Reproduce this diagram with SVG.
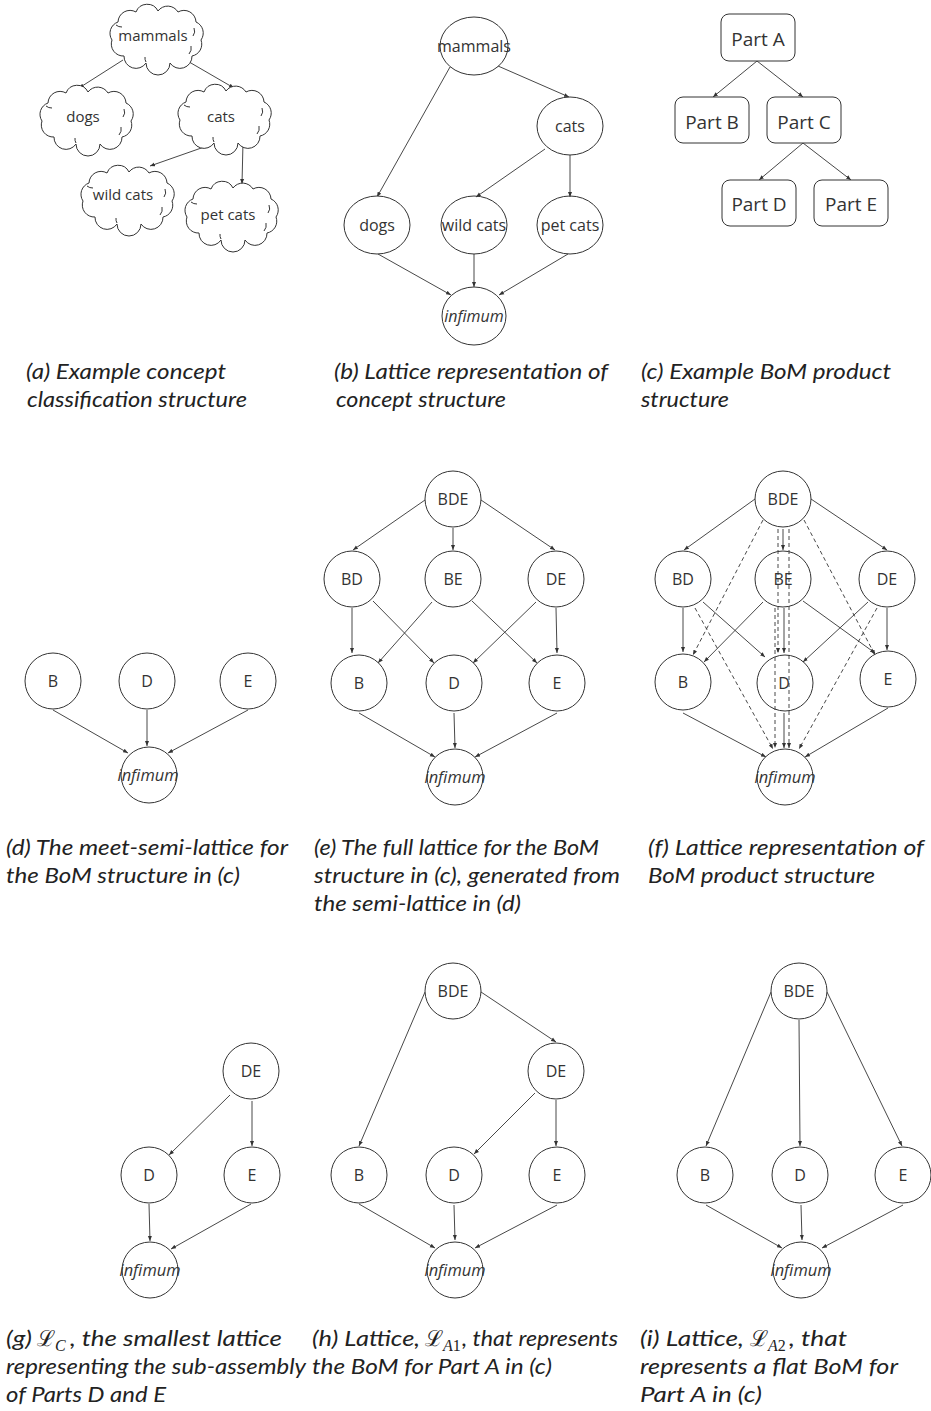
<svg xmlns="http://www.w3.org/2000/svg" xmlns:xlink="http://www.w3.org/1999/xlink" width="931" height="1411" viewBox="0 0 931 1411">
<style>
.n{fill:#fff;stroke:#333;stroke-width:1}
.t{font-family:"Open Sans","DejaVu Sans",sans-serif;font-size:16px;fill:#333;text-anchor:middle}
.ti{font-family:"Open Sans","DejaVu Sans",sans-serif;font-size:16px;font-style:italic;fill:#333;text-anchor:middle}
.c{font-family:Lato,"Open Sans",sans-serif;font-size:22px;font-style:italic;fill:#222}
.m{font-family:"DejaVu Serif",serif;font-size:22px;font-style:normal;fill:#222}
.s{font-family:"Liberation Serif",serif;font-size:16px;fill:#222}
.e{fill:none;stroke:#333;stroke-width:0.9;marker-end:url(#ah)}
.d{fill:none;stroke:#333;stroke-width:0.9;stroke-dasharray:4 3;marker-end:url(#ah)}
</style>
<defs>
<marker id="ah" viewBox="0 0 6 6" refX="6" refY="3" markerWidth="5" markerHeight="5" markerUnits="userSpaceOnUse" orient="auto"><path d="M0,0.6 L6,3 L0,5.4 Z" fill="#333"/></marker>
<g id="cloud">
<path class="n" d="M-44,4 A12,12 0 0 1 -38,-14 A12,12 0 0 1 -20,-24 A12,12 0 0 1 2,-25 A12,12 0 0 1 22,-24 A12,12 0 0 1 40,-14 A12,12 0 0 1 45,4 A12,12 0 0 1 36,20 A12,12 0 0 1 14,27 A12,12 0 0 1 -10,27 A12,12 0 0 1 -32,20 A12,12 0 0 1 -44,4 Z"/>
<path fill="none" stroke="#333" stroke-width="1" d="M38,-8 a8,8 0 0 1 -1,8 M33,18 a9,9 0 0 0 2,-8 M-40,-11 a9,9 0 0 0 6,2 M-10,26 a8,8 0 0 1 -1,-5"/>
</g>
</defs>
<rect width="931" height="1411" fill="#fff"/>

<g id="connectors">
<!-- (a) -->
<line class="e" x1="123" y1="60" x2="79" y2="88"/>
<line class="e" x1="184" y1="59" x2="234" y2="88"/>
<line class="e" x1="207" y1="146" x2="150" y2="166"/>
<line class="e" x1="243" y1="142" x2="242" y2="184"/>
<!-- (b) -->
<line class="e" x1="450" y1="67" x2="377" y2="197"/>
<line class="e" x1="498" y1="66" x2="569" y2="97"/>
<line class="e" x1="545" y1="149" x2="476" y2="197"/>
<line class="e" x1="570" y1="155" x2="570" y2="197"/>
<line class="e" x1="378" y1="254" x2="451" y2="295"/>
<line class="e" x1="474" y1="254" x2="474" y2="287"/>
<line class="e" x1="568" y1="254" x2="499" y2="295"/>
<!-- (c) -->
<line class="e" x1="757" y1="61" x2="713" y2="97"/>
<line class="e" x1="757" y1="61" x2="803" y2="97"/>
<line class="e" x1="803" y1="143" x2="759" y2="180"/>
<line class="e" x1="803" y1="143" x2="851" y2="180"/>
<!-- (d) -->
<line class="e" x1="53" y1="710" x2="128" y2="753"/>
<line class="e" x1="147" y1="710" x2="147" y2="746"/>
<line class="e" x1="248" y1="710" x2="168" y2="753"/>
<!-- (e) -->
<line class="e" x1="425" y1="500" x2="353" y2="550"/>
<line class="e" x1="453" y1="528" x2="453" y2="550"/>
<line class="e" x1="481" y1="500" x2="555" y2="550"/>
<line class="e" x1="352" y1="608" x2="352" y2="653"/>
<line class="e" x1="373" y1="601" x2="434" y2="663"/>
<line class="e" x1="432" y1="602" x2="378" y2="663"/>
<line class="e" x1="472" y1="601" x2="537" y2="663"/>
<line class="e" x1="536" y1="602" x2="473" y2="663"/>
<line class="e" x1="556" y1="608" x2="557" y2="653"/>
<line class="e" x1="359" y1="713" x2="435" y2="757"/>
<line class="e" x1="454" y1="713" x2="455" y2="748"/>
<line class="e" x1="557" y1="713" x2="475" y2="757"/>
<!-- (f) solid -->
<line class="e" x1="755" y1="499" x2="684" y2="550"/>
<line class="e" x1="783" y1="529" x2="783" y2="550"/>
<line class="e" x1="811" y1="499" x2="887" y2="550"/>
<line class="e" x1="683" y1="608" x2="683" y2="652"/>
<line class="e" x1="703" y1="602" x2="765" y2="657"/>
<line class="e" x1="763" y1="602" x2="704" y2="662"/>
<line class="e" x1="784" y1="608" x2="784" y2="653"/>
<line class="e" x1="803" y1="601" x2="875" y2="653"/>
<line class="e" x1="868" y1="602" x2="803" y2="662"/>
<line class="e" x1="887" y1="608" x2="887" y2="650"/>
<line class="e" x1="683" y1="713" x2="766" y2="757"/>
<line class="e" x1="784" y1="713" x2="784" y2="748"/>
<line class="e" x1="888" y1="708" x2="805" y2="757"/>
<!-- (f) dashed -->
<line class="d" x1="763" y1="520" x2="693" y2="655"/>
<line class="d" x1="804" y1="520" x2="875" y2="655"/>
<line class="d" x1="778" y1="529" x2="778" y2="653"/>
<line class="d" x1="789" y1="529" x2="789" y2="748"/>
<line class="d" x1="775" y1="608" x2="775" y2="748"/>
<line class="d" x1="695" y1="608" x2="773" y2="749"/>
<line class="d" x1="877" y1="608" x2="799" y2="749"/>
<!-- (g) -->
<line class="e" x1="230" y1="1095" x2="169" y2="1155"/>
<line class="e" x1="252" y1="1101" x2="252" y2="1146"/>
<line class="e" x1="149" y1="1204" x2="150" y2="1241"/>
<line class="e" x1="251" y1="1204" x2="171" y2="1249"/>
<!-- (h) -->
<line class="e" x1="425" y1="992" x2="359" y2="1146"/>
<line class="e" x1="481" y1="992" x2="556" y2="1042"/>
<line class="e" x1="535" y1="1093" x2="474" y2="1154"/>
<line class="e" x1="556" y1="1100" x2="556" y2="1146"/>
<line class="e" x1="359" y1="1204" x2="435" y2="1248"/>
<line class="e" x1="454" y1="1205" x2="455" y2="1240"/>
<line class="e" x1="557" y1="1205" x2="475" y2="1248"/>
<!-- (i) -->
<line class="e" x1="771" y1="992" x2="706" y2="1146"/>
<line class="e" x1="799" y1="1020" x2="800" y2="1146"/>
<line class="e" x1="827" y1="992" x2="902" y2="1146"/>
<line class="e" x1="706" y1="1205" x2="782" y2="1248"/>
<line class="e" x1="801" y1="1205" x2="802" y2="1240"/>
<line class="e" x1="903" y1="1205" x2="822" y2="1248"/>
</g>

<!-- (a) clouds -->
<g id="a-mammals"><use xlink:href="#cloud" href="#cloud" transform="translate(156,36)"/><text class="t" x="153" y="41" style="font-size:15px">mammals</text></g>
<g id="a-dogs"><use href="#cloud" xlink:href="#cloud" transform="translate(86,117)"/><text class="t" x="83" y="122" style="font-size:15px">dogs</text></g>
<g id="a-cats"><use href="#cloud" xlink:href="#cloud" transform="translate(224,116)"/><text class="t" x="221" y="122" style="font-size:15px">cats</text></g>
<g id="a-wildcats"><use href="#cloud" xlink:href="#cloud" transform="translate(127,197)"/><text class="t" x="123" y="200" style="font-size:15px">wild cats</text></g>
<g id="a-petcats"><use href="#cloud" xlink:href="#cloud" transform="translate(231,213)"/><text class="t" x="228" y="220" style="font-size:15px">pet cats</text></g>

<!-- (b) -->
<g id="b-mammals"><ellipse class="n" cx="474" cy="46" rx="34" ry="29" style="fill:none"/><text class="t" x="474" y="52">mammals</text></g>
<g id="b-cats"><ellipse class="n" cx="570" cy="126" rx="33" ry="29"/><text class="t" x="570" y="132">cats</text></g>
<g id="b-dogs"><ellipse class="n" cx="377" cy="225" rx="33" ry="29"/><text class="t" x="377" y="231">dogs</text></g>
<g id="b-wildcats"><ellipse class="n" cx="474" cy="225" rx="33" ry="29" style="fill:none"/><text class="t" x="474" y="231">wild cats</text></g>
<g id="b-petcats"><ellipse class="n" cx="570" cy="225" rx="33" ry="29" style="fill:none"/><text class="t" x="570" y="231">pet cats</text></g>
<g id="b-infimum"><ellipse class="n" cx="474" cy="316" rx="32" ry="29" style="fill:none"/><text class="ti" x="474" y="322">infimum</text></g>

<!-- (c) -->
<g id="c-partA"><rect class="n" x="721" y="14" width="74" height="47" rx="8"/><text class="t" x="758" y="46" style="font-size:19px">Part A</text></g>
<g id="c-partB"><rect class="n" x="675" y="97" width="74" height="46" rx="8"/><text class="t" x="712" y="129" style="font-size:19px">Part B</text></g>
<g id="c-partC"><rect class="n" x="767" y="97" width="74" height="46" rx="8"/><text class="t" x="804" y="129" style="font-size:19px">Part C</text></g>
<g id="c-partD"><rect class="n" x="722" y="180" width="74" height="46" rx="8"/><text class="t" x="759" y="211" style="font-size:19px">Part D</text></g>
<g id="c-partE"><rect class="n" x="814" y="180" width="74" height="46" rx="8"/><text class="t" x="851" y="211" style="font-size:19px">Part E</text></g>

<!-- (d) -->
<g id="d-B"><circle class="n" cx="53" cy="681" r="28"/><text class="t" x="53" y="687">B</text></g>
<g id="d-D"><circle class="n" cx="147" cy="681" r="28"/><text class="t" x="147" y="687">D</text></g>
<g id="d-E"><circle class="n" cx="248" cy="681" r="28"/><text class="t" x="248" y="687">E</text></g>
<g id="d-inf"><circle class="n" cx="149" cy="775" r="28"/><text class="ti" x="148" y="781" textLength="61" lengthAdjust="spacingAndGlyphs">infimum</text></g>

<!-- (e) -->
<g id="e-BDE"><circle class="n" cx="453" cy="499" r="28"/><text class="t" x="453" y="505">BDE</text></g>
<g id="e-BD"><circle class="n" cx="352" cy="579" r="28"/><text class="t" x="352" y="585">BD</text></g>
<g id="e-BE"><circle class="n" cx="453" cy="579" r="28"/><text class="t" x="453" y="585">BE</text></g>
<g id="e-DE"><circle class="n" cx="556" cy="579" r="28"/><text class="t" x="556" y="585">DE</text></g>
<g id="e-B"><circle class="n" cx="359" cy="683" r="28"/><text class="t" x="359" y="689">B</text></g>
<g id="e-D"><circle class="n" cx="454" cy="683" r="28"/><text class="t" x="454" y="689">D</text></g>
<g id="e-E"><circle class="n" cx="557" cy="683" r="28"/><text class="t" x="557" y="689">E</text></g>
<g id="e-inf"><circle class="n" cx="455" cy="777" r="28"/><text class="ti" x="455" y="783" textLength="61" lengthAdjust="spacingAndGlyphs">infimum</text></g>

<!-- (f) -->
<g id="f-BDE"><circle class="n" cx="783" cy="499" r="28"/><text class="t" x="783" y="505">BDE</text></g>
<g id="f-BD"><circle class="n" cx="683" cy="579" r="28"/><text class="t" x="683" y="585">BD</text></g>
<g id="f-BE"><circle class="n" cx="783" cy="579" r="28" style="fill:none"/><text class="t" x="783" y="585">BE</text></g>
<g id="f-DE"><circle class="n" cx="887" cy="579" r="28"/><text class="t" x="887" y="585">DE</text></g>
<g id="f-B"><circle class="n" cx="683" cy="682" r="28"/><text class="t" x="683" y="688">B</text></g>
<g id="f-D"><circle class="n" cx="785" cy="683" r="28" style="fill:none"/><text class="t" x="784" y="689">D</text></g>
<g id="f-E"><circle class="n" cx="888" cy="679" r="28"/><text class="t" x="888" y="685">E</text></g>
<g id="f-inf"><circle class="n" cx="785" cy="777" r="28"/><text class="ti" x="785" y="783" textLength="61" lengthAdjust="spacingAndGlyphs">infimum</text></g>

<!-- (g) -->
<g id="g-DE"><circle class="n" cx="251" cy="1071" r="28"/><text class="t" x="251" y="1077">DE</text></g>
<g id="g-D"><circle class="n" cx="149" cy="1175" r="28"/><text class="t" x="149" y="1181">D</text></g>
<g id="g-E"><circle class="n" cx="252" cy="1175" r="28"/><text class="t" x="252" y="1181">E</text></g>
<g id="g-inf"><circle class="n" cx="150" cy="1270" r="28"/><text class="ti" x="150" y="1276" textLength="61" lengthAdjust="spacingAndGlyphs">infimum</text></g>

<!-- (h) -->
<g id="h-BDE"><circle class="n" cx="453" cy="991" r="28"/><text class="t" x="453" y="997">BDE</text></g>
<g id="h-DE"><circle class="n" cx="556" cy="1071" r="28"/><text class="t" x="556" y="1077">DE</text></g>
<g id="h-B"><circle class="n" cx="359" cy="1175" r="28"/><text class="t" x="359" y="1181">B</text></g>
<g id="h-D"><circle class="n" cx="454" cy="1175" r="28"/><text class="t" x="454" y="1181">D</text></g>
<g id="h-E"><circle class="n" cx="557" cy="1175" r="28"/><text class="t" x="557" y="1181">E</text></g>
<g id="h-inf"><circle class="n" cx="455" cy="1270" r="28"/><text class="ti" x="455" y="1276" textLength="61" lengthAdjust="spacingAndGlyphs">infimum</text></g>

<!-- (i) -->
<g id="i-BDE"><circle class="n" cx="799" cy="991" r="28"/><text class="t" x="799" y="997">BDE</text></g>
<g id="i-B"><circle class="n" cx="705" cy="1175" r="28"/><text class="t" x="705" y="1181">B</text></g>
<g id="i-D"><circle class="n" cx="800" cy="1175" r="28"/><text class="t" x="800" y="1181">D</text></g>
<g id="i-E"><circle class="n" cx="903" cy="1175" r="28"/><text class="t" x="903" y="1181">E</text></g>
<g id="i-inf"><circle class="n" cx="801" cy="1270" r="28"/><text class="ti" x="801" y="1276" textLength="61" lengthAdjust="spacingAndGlyphs">infimum</text></g>

<!-- captions -->
<g id="captions">
<text class="c" x="26" y="379" textLength="200" lengthAdjust="spacingAndGlyphs">(a) Example concept</text>
<text class="c" x="27" y="407" textLength="220" lengthAdjust="spacingAndGlyphs">classification structure</text>
<text class="c" x="334" y="379" textLength="274" lengthAdjust="spacingAndGlyphs">(b) Lattice representation of</text>
<text class="c" x="336" y="407" textLength="170" lengthAdjust="spacingAndGlyphs">concept structure</text>
<text class="c" x="641" y="379" textLength="250" lengthAdjust="spacingAndGlyphs">(c) Example BoM product</text>
<text class="c" x="641" y="407" textLength="88" lengthAdjust="spacingAndGlyphs">structure</text>

<text class="c" x="6" y="855" textLength="282" lengthAdjust="spacingAndGlyphs">(d) The meet-semi-lattice for</text>
<text class="c" x="6" y="883" textLength="234" lengthAdjust="spacingAndGlyphs">the BoM structure in (c)</text>
<text class="c" x="314" y="855" textLength="285" lengthAdjust="spacingAndGlyphs">(e) The full lattice for the BoM</text>
<text class="c" x="314" y="883" textLength="306" lengthAdjust="spacingAndGlyphs">structure in (c), generated from</text>
<text class="c" x="314" y="911" textLength="207" lengthAdjust="spacingAndGlyphs">the semi-lattice in (d)</text>
<text class="c" x="648" y="855" textLength="276" lengthAdjust="spacingAndGlyphs">(f) Lattice representation of</text>
<text class="c" x="648" y="883" textLength="227" lengthAdjust="spacingAndGlyphs">BoM product structure</text>

<text class="c" x="6" y="1346" textLength="26" lengthAdjust="spacingAndGlyphs">(g)</text>
<text class="m" x="37" y="1346">ℒ</text>
<text class="s" x="55" y="1351" font-style="italic">C</text>
<text class="c" x="70" y="1346" textLength="212" lengthAdjust="spacingAndGlyphs"> , the smallest lattice</text>
<text class="c" x="6" y="1374" textLength="300" lengthAdjust="spacingAndGlyphs">representing the sub-assembly</text>
<text class="c" x="6" y="1402" textLength="160" lengthAdjust="spacingAndGlyphs">of Parts D and E</text>

<text class="c" x="312" y="1346" textLength="108" lengthAdjust="spacingAndGlyphs">(h) Lattice,</text>
<text class="m" x="425" y="1346">ℒ</text>
<text class="s" x="443" y="1351"><tspan font-style="italic">A</tspan>1</text>
<text class="c" x="462" y="1346" textLength="156" lengthAdjust="spacingAndGlyphs">, that represents</text>
<text class="c" x="312" y="1374" textLength="240" lengthAdjust="spacingAndGlyphs">the BoM for Part A in (c)</text>

<text class="c" x="640" y="1346" textLength="104" lengthAdjust="spacingAndGlyphs">(i) Lattice,</text>
<text class="m" x="750" y="1346">ℒ</text>
<text class="s" x="768" y="1351"><tspan font-style="italic">A</tspan>2</text>
<text class="c" x="789" y="1346" textLength="58" lengthAdjust="spacingAndGlyphs">, that</text>
<text class="c" x="640" y="1374" textLength="258" lengthAdjust="spacingAndGlyphs">represents a flat BoM for</text>
<text class="c" x="640" y="1402" textLength="122" lengthAdjust="spacingAndGlyphs">Part A in (c)</text>
</g>
</svg>
